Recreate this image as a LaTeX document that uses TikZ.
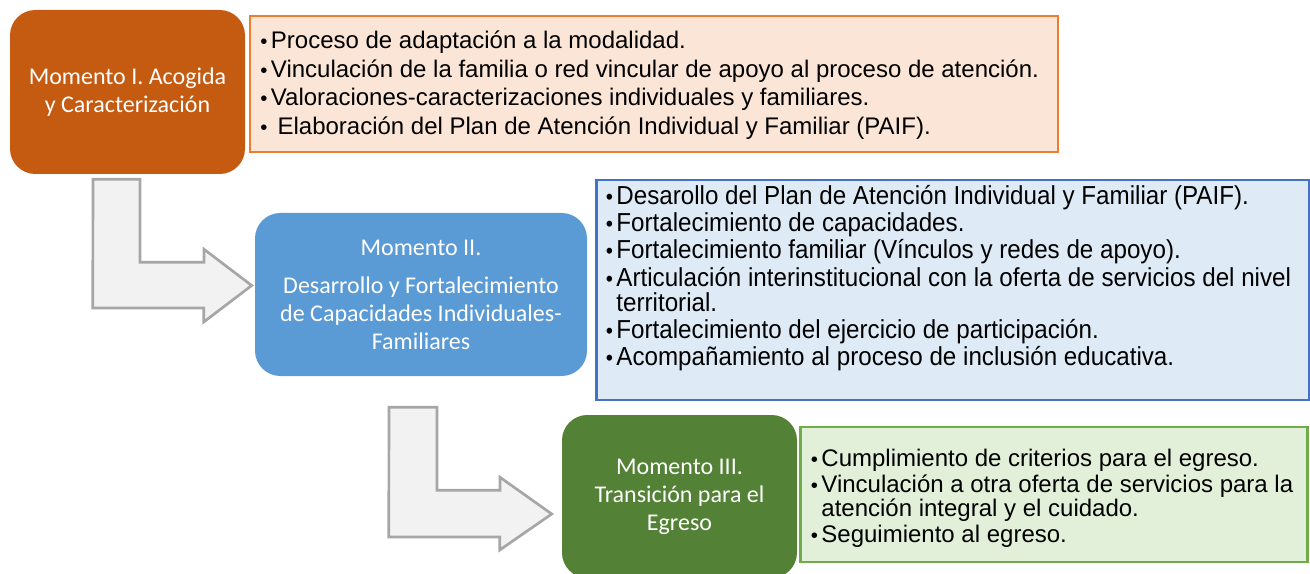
\documentclass[tikz,border=0pt]{standalone}
\usepackage{fontspec}
\setmainfont{Liberation Sans}
\newfontfamily\labelfont{Carlito}
\newfontfamily\narrowfont[FakeStretch=0.93]{Liberation Sans}
\usepackage{tikz}
\usetikzlibrary{positioning,calc}
\definecolor{StageOne}{HTML}{C55A11}
\definecolor{StageTwo}{HTML}{5B9BD5}
\definecolor{StageThree}{HTML}{538135}
\definecolor{PanelOne}{HTML}{FBE5D6}
\definecolor{PanelOneLine}{HTML}{ED7D31}
\definecolor{PanelTwo}{HTML}{DEEBF7}
\definecolor{PanelTwoLine}{HTML}{4472C4}
\definecolor{PanelThree}{HTML}{E2F0D9}
\definecolor{PanelThreeLine}{HTML}{70AD47}
\definecolor{BendFill}{HTML}{F2F2F2}
\definecolor{BendLine}{HTML}{A6A6A6}
\newcommand{\itm}{\makebox[12pt][l]{\hspace{4pt}\scalebox{0.85}{•}}}
\newcommand{\cont}{\hspace*{12pt}}

\begin{document}
\begin{tikzpicture}[
  x=0.75pt, y=-0.75pt,
  stage/.style={rounded corners=19pt, text=white, align=center, inner sep=0pt,
    font=\labelfont\fontsize{18}{21}\selectfont},
  panel/.style={line width=2pt, inner sep=0pt},
  items/.style={anchor=west, align=left, inner sep=0pt},
  bendarrow/.style={fill=BendFill, draw=BendLine, line width=2pt, line join=miter}
]
\useasboundingbox (0,0) rectangle (1310,574);

% momentos
\node[stage, fill=StageOne, minimum width=176.25pt, minimum height=123pt] (m1) at (127.5,92)
  {Momento I. Acogida\\y Caracterización};
\node[stage, fill=StageTwo, minimum width=249pt, minimum height=122.25pt] (m2) at (421,294.5)
  {Momento II.\\[7.5pt]\fontsize{18}{19.5}\selectfont Desarrollo y Fortalecimiento\\de Capacidades Individuales-\\Familiares};
\node[stage, fill=StageThree, minimum width=176.25pt, minimum height=122.25pt] (m3) at (679.5,496.5)
  {\fontsize{18}{20}\selectfont Momento III.\\Transición para el\\Egreso};

% cajas de actividades
\node[panel, fill=PanelOne, draw=PanelOneLine, minimum width=606pt, minimum height=102pt] (p1) at (654,84) {};
\node[panel, fill=PanelTwo, draw=PanelTwoLine, minimum width=534.75pt, minimum height=165pt] (p2) at (953,290) {};
\node[panel, fill=PanelThree, draw=PanelThreeLine, minimum width=380.25pt, minimum height=101.25pt] (p3) at (1054,494.5) {};

\node[items, font=\fontsize{18}{21.5}\selectfont] (l1) at ($(p1.west)+(6,1)$)
  {\itm Proceso de adaptación a la modalidad.\\
   \itm Vinculación de la familia o red vincular de apoyo al proceso de atención.\\
   \itm Valoraciones-caracterizaciones individuales y familiares.\\
   \itm\ Elaboración del Plan de Atención Individual y Familiar (PAIF).};
\node[items, font=\narrowfont\fontsize{19.5}{18.75}\selectfont] (l2) at ($(p2.west)+(5,-12)$)
  {\itm Desarollo del Plan de Atención Individual y Familiar (PAIF).\\[1.75pt]
   \itm Fortalecimiento de capacidades.\\[1.75pt]
   \itm Fortalecimiento familiar (Vínculos y redes de apoyo).\\[1.75pt]
   \itm Articulación interinstitucional con la oferta de servicios del nivel\\
   \cont territorial.\\[1.75pt]
   \itm Fortalecimiento del ejercicio de participación.\\[1.75pt]
   \itm Acompañamiento al proceso de inclusión educativa.};
\node[items, font=\fontsize{18}{18}\selectfont] (l3) at ($(p3.west)+(6,4)$)
  {\itm Cumplimiento de criterios para el egreso.\\[1.5pt]
   \itm Vinculación a otra oferta de servicios para la\\
   \cont atención integral y el cuidado.\\[1.5pt]
   \itm Seguimiento al egreso.};

% flechas entre momentos
\draw[bendarrow] ($(m1.south)+(-34.5,5)$) -- ++(47,0) -- ++(0,83) -- ++(64,0) -- ++(0,-13)
  -- ($(m2.west)+(-3,-9)$) -- ++(-48,36.5) -- ++(0,-14) -- ++(-111,0) -- cycle;
\draw[bendarrow] ($(m2.south)+(-32,31)$) -- ++(48,0) -- ++(0,83) -- ++(63,0) -- ++(0,-13)
  -- ($(m3.west)+(-10,17.5)$) -- ++(-52,36) -- ++(0,-13) -- ++(-111,0) -- cycle;
\end{tikzpicture}
\end{document}
